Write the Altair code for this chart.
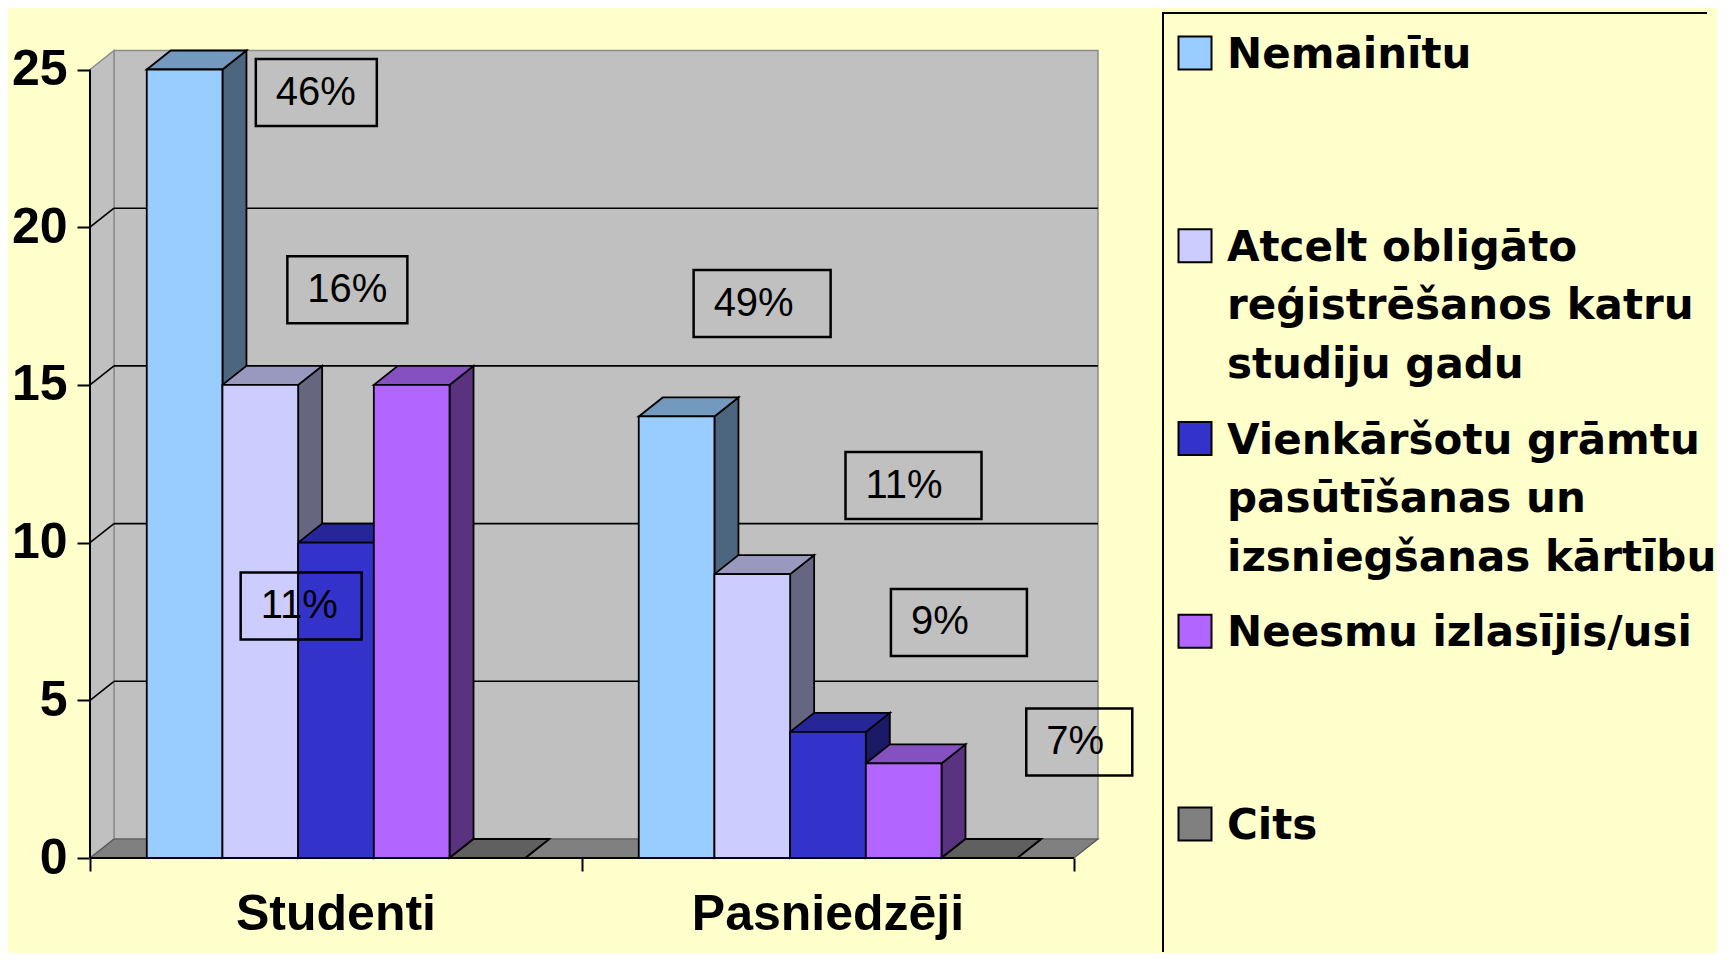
import altair as alt
import pandas as pd

# ---------------- data ----------------
categories = ["Studenti", "Pasniedzēji"]
series = [
    "Nemainītu",
    "Atcelt obligāto reģistrēšanos katru studiju gadu",
    "Vienkāršotu grāmtu pasūtīšanas un izsniegšanas kārtību",
    "Neesmu izlasījis/usi",
    "Cits",
]
legend_labels = [
    "Nemainītu",
    "Atcelt obligāto\nreģistrēšanos katru\nstudiju gadu",
    "Vienkāršotu grāmtu\npasūtīšanas un\nizsniegšanas kārtību",
    "Neesmu izlasījis/usi",
    "Cits",
]
studenti_values = [25, 15, 10, 15, 0]
pasniedzeji_values = [14, 9, 4, 3, 0]
y_ticks = [0, 5, 10, 15, 20, 25]

pct_text = ["46%", "16%", "11%", "49%", "11%", "9%", "7%"]
pct_x = [2.99, 3.40, 2.79, 8.88, 10.88, 11.48, 13.07]   # box centres in x-axis units
pct_y = [24.27, 18.02, 7.99, 17.58, 11.81, 7.47, 3.68]  # box centres in y-axis units

# ---------------- styles ----------------
front_col = ["#99CCFF", "#CCCCFF", "#3333CC", "#B266FF", "#808080"]
top_col = ["#7399BF", "#9999BF", "#262699", "#8550BF", "#606060"]
side_col = ["#4D6680", "#666680", "#1A1A66", "#593380", "#404040"]
pct_box_w = [121, 120, 121, 137, 136, 136, 106]
BOX_H = 67

PLOT_W, PLOT_H = 1009, 846
GAP = 1.5                       # gap between groups, in bar widths
N = len(series)
BAND = N + GAP
X_FRONT = BAND * len(categories)
PX_X = 75.69                    # px per x unit
X_MAX = PLOT_W / PX_X
PX_Y = 31.54                    # px per y unit
Y_MAX = PLOT_H / PX_Y
DX = 24 / PX_X                  # 3-D depth offset
DY = 19 / PX_Y
WALL_TOP = max(y_ticks)

xs = alt.Scale(domain=[0, X_MAX], nice=False, zero=False)
ys = alt.Scale(domain=[0, Y_MAX], nice=False, zero=False)
x_axis = alt.Axis(values=[0, BAND, X_FRONT], labels=False, domain=False, grid=False,
                  tickSize=13, tickWidth=2, tickColor="black", title=None)
y_axis = alt.Axis(values=y_ticks, domain=False, grid=False, tickSize=13, tickWidth=2,
                  tickColor="black", labelFont="Liberation Sans", labelFontWeight="bold",
                  labelFontSize=50, labelColor="black", labelPadding=10, title=None,
                  minExtent=82, maxExtent=82)


def X(f, **kw):
    return alt.X(f, type="quantitative", scale=xs, axis=x_axis, **kw)


def Y(f, **kw):
    return alt.Y(f, type="quantitative", scale=ys, axis=y_axis, stack=None, **kw)


# ---------------- geometry tables ----------------
front_rows, top_rows, side_rows = [], [], []
for g, (cat, vals) in enumerate(zip(categories, [studenti_values, pasniedzeji_values])):
    for i, v in enumerate(vals):
        x0 = g * BAND + GAP / 2 + i
        x1 = x0 + 1
        key = f"{g}-{i}"
        front_rows.append(dict(key=key, x0=x0, x1=x1, base=0, v=v, fill=front_col[i]))
        for xx, yy, yy2 in [(x0, v, v), (x0 + DX, v + DY, v), (x1, v + DY, v), (x1 + DX, v + DY, v + DY)]:
            top_rows.append(dict(key=key, x=xx, y=yy, y2=yy2, fill=top_col[i]))
        for xx, yy, yy2 in [(x1, v, 0), (x1 + DX, v + DY, DY)]:
            side_rows.append(dict(key=key, x=xx, y=yy, y2=yy2, fill=side_col[i]))
front_df = pd.DataFrame(front_rows)
top_df = pd.DataFrame(top_rows)
side_df = pd.DataFrame(side_rows)

back_wall = pd.DataFrame([dict(x0=DX, x1=X_FRONT + DX, y0=DY, y1=WALL_TOP + DY)])
left_wall = pd.DataFrame([dict(x=0, y=WALL_TOP, y2=0), dict(x=DX, y=WALL_TOP + DY, y2=DY)])
floor = pd.DataFrame([dict(x=0, y=0, y2=0), dict(x=DX, y=DY, y2=0),
                      dict(x=X_FRONT, y=DY, y2=0), dict(x=X_FRONT + DX, y=DY, y2=DY)])
inner = [t for t in y_ticks if 0 < t < WALL_TOP]
grid_back = pd.DataFrame([dict(x=DX, x2=X_FRONT + DX, y=t + DY, y2=t + DY) for t in inner])
grid_side = pd.DataFrame([dict(x=0, x2=DX, y=t, y2=t + DY) for t in inner])
axis_lines = pd.DataFrame([dict(x=0, x2=0, y=0, y2=WALL_TOP), dict(x=0, x2=X_FRONT, y=0, y2=0)])

lab = pd.DataFrame(dict(text=pct_text, xc=pct_x, yc=pct_y, w=pct_box_w))
lab["x0"] = lab.xc - lab.w / 2 / PX_X
lab["x1"] = lab.xc + lab.w / 2 / PX_X
lab["y0"] = lab.yc - BOX_H / 2 / PX_Y
lab["y1"] = lab.yc + BOX_H / 2 / PX_Y

cat_df = pd.DataFrame(dict(cat=categories, xc=[g * BAND + BAND / 2 for g in range(len(categories))], y=0))

# ---------------- main chart layers ----------------
l_back = alt.Chart(back_wall).mark_rect(fill="#C0C0C0", stroke="#8C8C8C", strokeWidth=1.5).encode(
    x=X("x0"), x2="x1", y=Y("y0"), y2="y1")
l_left = alt.Chart(left_wall).mark_area(fill="#C0C0C0", stroke="#8C8C8C", strokeWidth=1.5, opacity=1).encode(
    x=X("x"), y=Y("y"), y2="y2")
l_floor = alt.Chart(floor).mark_area(fill="#808080", stroke="#555555", strokeWidth=1.2, opacity=1).encode(
    x=X("x"), y=Y("y"), y2="y2")
l_gb = alt.Chart(grid_back).mark_rule(color="black", strokeWidth=1.6).encode(
    x=X("x"), x2="x2", y=Y("y"), y2="y2")
l_gs = alt.Chart(grid_side).mark_rule(color="black", strokeWidth=1.6).encode(
    x=X("x"), x2="x2", y=Y("y"), y2="y2")
l_side = alt.Chart(side_df).mark_area(stroke="black", strokeWidth=1.8, opacity=1).encode(
    x=X("x"), y=Y("y"), y2="y2", detail="key:N", fill=alt.Fill("fill:N", scale=None))
l_top = alt.Chart(top_df).mark_area(stroke="black", strokeWidth=1.8, opacity=1).encode(
    x=X("x"), y=Y("y"), y2="y2", detail="key:N", fill=alt.Fill("fill:N", scale=None))
l_front = alt.Chart(front_df).mark_rect(stroke="black", strokeWidth=1.8).encode(
    x=X("x0"), x2="x1", y=Y("base"), y2="v", fill=alt.Fill("fill:N", scale=None))
l_axes = alt.Chart(axis_lines).mark_rule(color="black", strokeWidth=2).encode(
    x=X("x"), x2="x2", y=Y("y"), y2="y2")
l_box = alt.Chart(lab).mark_rect(fill=None, fillOpacity=0, stroke="black", strokeWidth=2.5).encode(
    x=X("x0"), x2="x1", y=Y("y0"), y2="y1")
l_txt = alt.Chart(lab).mark_text(align="left", baseline="middle", dx=20, font="Liberation Sans",
                                 fontSize=40, color="black").encode(
    x=X("x0"), y=Y("yc"), text="text:N")
l_cat = alt.Chart(cat_df).mark_text(align="center", baseline="middle", dy=57, font="Liberation Sans",
                                    fontWeight="bold", fontSize=50, color="black").encode(
    x=X("xc"), y=Y("y"), text="cat:N")

main = alt.layer(l_back, l_left, l_floor, l_gb, l_gs, l_side, l_top, l_front, l_axes,
                 l_box, l_txt, l_cat).properties(width=PLOT_W, height=PLOT_H)

# ---------------- legend panel ----------------
ldf = pd.DataFrame(dict(series=series, label=legend_labels, color=front_col))
ly = alt.Scale(type="point", domain=series, range=[41, 812], padding=0)
LEG_W, LEG_H = 545, 930
leg_sym = alt.Chart(ldf).mark_point(shape="square", filled=True, size=1089, stroke="black",
                                    strokeWidth=2, opacity=1).encode(
    x=alt.value(33), y=alt.Y("series:N", scale=ly, axis=None), fill=alt.Fill("color:N", scale=None))
leg_txt = alt.Chart(ldf).mark_text(align="left", baseline="alphabetic", dy=15, font="DejaVu Sans",
                                   fontWeight="bold", fontSize=42, lineHeight=58.5, lineBreak="\n",
                                   color="black").encode(
    x=alt.value(65), y=alt.Y("series:N", scale=ly, axis=None), text="label:N")
border_df = pd.DataFrame(dict(a=[0]))
leg_left = alt.Chart(border_df).mark_rule(color="black", strokeWidth=2).encode(
    x=alt.value(1), y=alt.value(0), y2=alt.value(940))
leg_top = alt.Chart(border_df).mark_rule(color="black", strokeWidth=2).encode(
    x=alt.value(0), x2=alt.value(LEG_W), y=alt.value(1))
legend = alt.layer(leg_sym, leg_txt, leg_left, leg_top).properties(width=LEG_W, height=LEG_H)

chart = alt.hconcat(main, legend, spacing=63, bounds="flush").properties(
    padding={"left": 0, "top": 3, "right": 0, "bottom": 0},
    background="#FFFFCC",
).configure_view(stroke=None)

chart.save("out.html", embed_options={"renderer": "svg", "actions": False})
